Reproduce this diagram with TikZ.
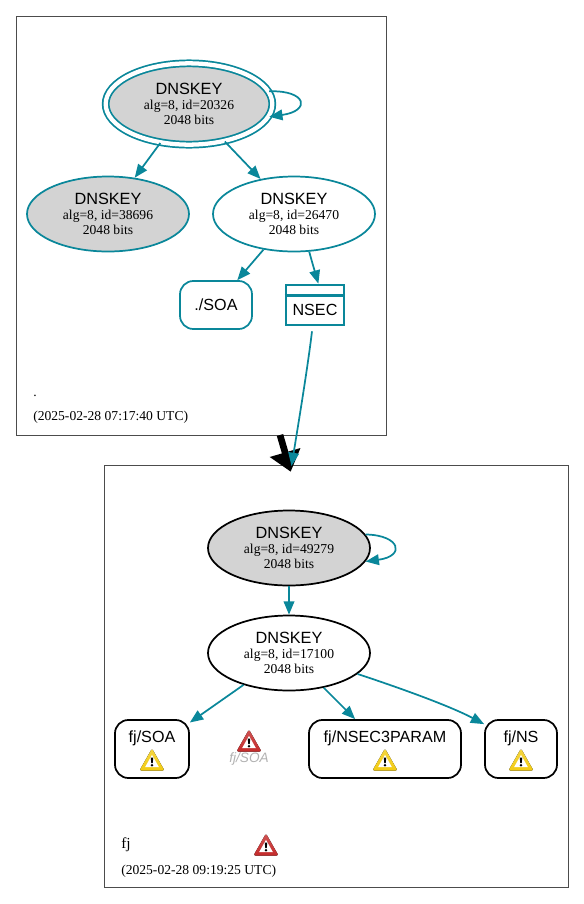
\documentclass[tikz,border=0pt]{standalone}
\usepackage{fontspec}
\setmainfont{Liberation Serif}
\setsansfont{Liberation Sans}
\usetikzlibrary{arrows.meta,calc,shapes.geometric}
\definecolor{dnsteal}{HTML}{0A879A}
\definecolor{keygray}{HTML}{D3D3D3}
\definecolor{warnyellow}{HTML}{F2CB12}
\definecolor{errred}{HTML}{C42A2A}
\newcommand{\keytext}[1]{{\sffamily\fontsize{12.2}{11}\selectfont DNSKEY}\\[-1.2pt]
  {\fontsize{10.2}{9.75}\selectfont alg=8, id=#1}\\[-0.6pt]
  {\fontsize{10.2}{9.75}\selectfont 2048 bits}}
\tikzset{
  keynode/.style={
    ellipse,
    draw=dnsteal,
    line width=1.3pt,
    inner sep=0pt,
    minimum width=121.5pt,
    minimum height=56.25pt,
    align=center
  },
  rrbox/.style={
    rounded corners=10pt,
    draw=black,
    line width=1.3pt,
    fill=white,
    minimum height=43.5pt,
    align=center,
    font=\sffamily\fontsize{12.1}{13}\selectfont
  },
  cluster/.style={
    draw=black!70,
    line width=0.6pt
  },
  tag/.style={
    anchor=base west,
    inner sep=0pt,
    font=\fontsize{10.2}{12}\selectfont
  },
  arrow/.style={
    -{Triangle[length=10pt,width=8pt]},
    line width=1.3pt,
    draw=dnsteal
  },
  pics/alerticon/.style={
    code={
      \fill[rounded corners=1.5pt, top color=#1!80!white, bottom color=#1]
        (-12.5,10.5) -- (0,-11.5) -- (12.5,10.5) -- cycle;
      \fill[white] (-6.8,7) -- (0,-5.2) -- (6.8,7) -- cycle;
      \fill[black] (-1.3,-2.5) -- (1.3,-2.5) -- (0.7,3) -- (-0.7,3) -- cycle;
      \fill[black] (0,5.2) circle (1.3);
    }
  }
}
\begin{document}
\begin{tikzpicture}[x=0.75pt,y=-0.75pt]
\useasboundingbox (0,0) rectangle (584,904);
\draw[cluster] (16,16) rectangle (386,435);
\draw[cluster] (104,465) rectangle (568,887);

\node[keynode, fill=keygray, double=white, double distance=3.2pt, minimum width=125pt, minimum height=61pt] (key20326) at (189,104) {\keytext{20326}};
\node[keynode, fill=keygray] (key38696) at (108,214) {\keytext{38696}};
\node[keynode] (key26470) at (294,214) {\keytext{26470}};
\node[rrbox, draw=dnsteal, minimum width=54pt, minimum height=36pt] (rootsoa) at (216,305) {./SOA};
\node[rrbox, draw=dnsteal, line width=2pt, rounded corners=0pt, minimum width=43.5pt, minimum height=30pt, inner ysep=0pt, text height=16pt, text depth=0pt] (rootnsec) at (315,305) {NSEC};
\draw[draw=dnsteal, line width=2pt] ($(rootnsec.north west)+(0,12)$) -- ($(rootnsec.north east)+(0,12)$);
\node[tag] (rootname) at (33,396) {.};
\node[tag] (roottime) at (33,420) {(2025-02-28 07:17:40 UTC)};

\node[keynode, draw=black, fill=keygray] (key49279) at (289,548) {\keytext{49279}};
\node[keynode, draw=black] (key17100) at (289,653) {\keytext{17100}};
\node[rrbox, minimum width=55.5pt] (fjsoa) at (152,749) {fj/SOA\\[5pt]~};
\node[rrbox, minimum width=114pt] (fjparam) at (385,749) {fj/NSEC3PARAM\\[5pt]~};
\node[rrbox, minimum width=54pt] (fjns) at (521,749) {fj/NS\\[5pt]~};
\node[inner sep=0pt, text=black!30, font=\sffamily\itshape\fontsize{10.2}{11}\selectfont] (fjghost) at (249,759) {fj/SOA};
\node[tag, font=\fontsize{11.5}{12}\selectfont] (fjname) at (121,848) {fj};
\node[tag] (fjtime) at (121,874) {(2025-02-28 09:19:25 UTC)};

\pic at (152,760) {alerticon=warnyellow};
\pic at (385,760) {alerticon=warnyellow};
\pic at (521,760) {alerticon=warnyellow};
\pic at (249,741) {alerticon=errred};
\pic at (266,845) {alerticon=errred};

\coordinate (bigstart) at (280,435);
\coordinate (bigend) at (290.7,471.7);
\coordinate (fjentry) at (291.5,466);
\draw[-{Triangle[length=15pt,width=23pt]}, line width=5pt] (bigstart) -- (bigend);

\draw[arrow] (key20326.9) .. controls (307,90) and (311,111) .. (key20326.-9);
\draw[arrow] (key20326) -- (key38696);
\draw[arrow] (key20326) -- (key26470);
\draw[arrow] (key26470) -- (rootsoa);
\draw[arrow] (key26470.-68) .. controls (312,262) and (315,272) .. (rootnsec.81);
\draw[arrow] ($(rootnsec.south)+(-3,5)$) .. controls (308,365) and (299,420) .. (fjentry);

\draw[arrow] (key49279.10) .. controls (400,535) and (406,556) .. (key49279.-10);
\draw[arrow] (key49279) -- (key17100);
\draw[arrow] (key17100) -- (fjsoa);
\draw[arrow] (key17100) -- (fjparam);
\draw[arrow] (key17100.-17) .. controls (400,688) and (450,706) .. (fjns.146);
\end{tikzpicture}
\end{document}
